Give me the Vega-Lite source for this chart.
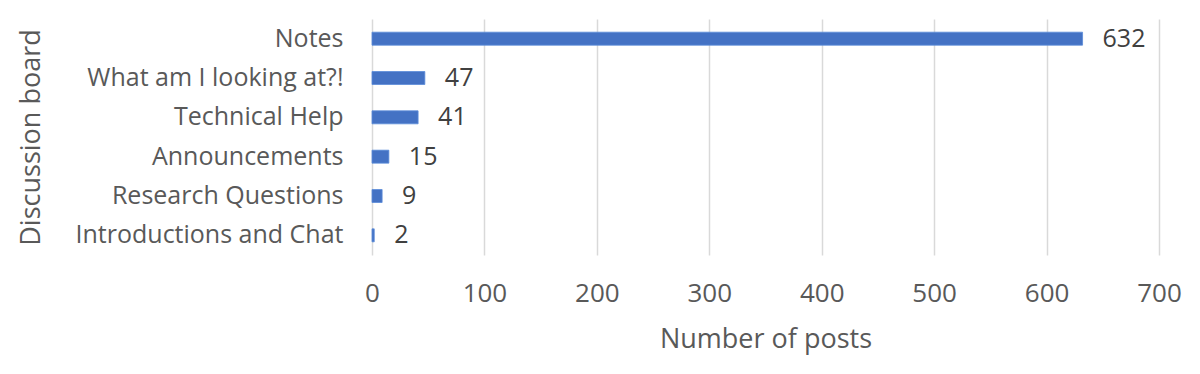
{
  "$schema": "https://vega.github.io/schema/vega-lite/v6.json",
  "width": 787,
  "height": 236,
  "autosize": {"type": "none"},
  "padding": {"left": 372, "top": 19, "right": 41, "bottom": 119},
  "background": "white",
  "config": {
    "view": {"stroke": null},
    "font": "Open Sans"
  },
  "data": {
    "values": [
      {"board": "Notes", "posts": 632},
      {"board": "What am I looking at?!", "posts": 47},
      {"board": "Technical Help", "posts": 41},
      {"board": "Announcements", "posts": 15},
      {"board": "Research Questions", "posts": 9},
      {"board": "Introductions and Chat", "posts": 2}
    ]
  },
  "encoding": {
    "y": {
      "field": "board",
      "type": "nominal",
      "sort": null,
      "scale": {"paddingInner": 0.67, "paddingOuter": 0.335},
      "axis": {
        "title": "Discussion board",
        "titleFont": "Open Sans",
        "titleFontSize": 27,
        "titleFontWeight": "normal",
        "titleColor": "#595959",
        "titleX": -341,
        "titleY": 118,
        "titleAngle": 270,
        "titleAlign": "center",
        "titleBaseline": "middle",
        "labelFont": "Open Sans",
        "labelFontSize": 25,
        "labelColor": "#595959",
        "labelPadding": 29,
        "labelLimit": 0,
        "ticks": false,
        "domain": false,
        "grid": false
      }
    },
    "x": {
      "field": "posts",
      "type": "quantitative",
      "scale": {"domain": [0, 700], "nice": false},
      "axis": {
        "title": "Number of posts",
        "titleFont": "Open Sans",
        "titleFontSize": 27,
        "titleFontWeight": "normal",
        "titleColor": "#595959",
        "titlePadding": 20,
        "labelFont": "Open Sans",
        "labelFontSize": 26,
        "labelColor": "#595959",
        "labelPadding": 25,
        "labelFlush": false,
        "values": [0, 100, 200, 300, 400, 500, 600, 700],
        "ticks": false,
        "domain": false,
        "grid": true,
        "gridColor": "#D9D9D9",
        "gridWidth": 1.5
      }
    }
  },
  "layer": [
    {"mark": {"type": "bar", "color": "#4472C4", "stroke": "#5B8BD9", "strokeWidth": 0.8}},
    {
      "mark": {"type": "text", "align": "left", "baseline": "middle", "dx": 20, "font": "Open Sans", "fontSize": 25, "color": "#404040"},
      "encoding": {"text": {"field": "posts", "type": "quantitative"}}
    }
  ]
}
